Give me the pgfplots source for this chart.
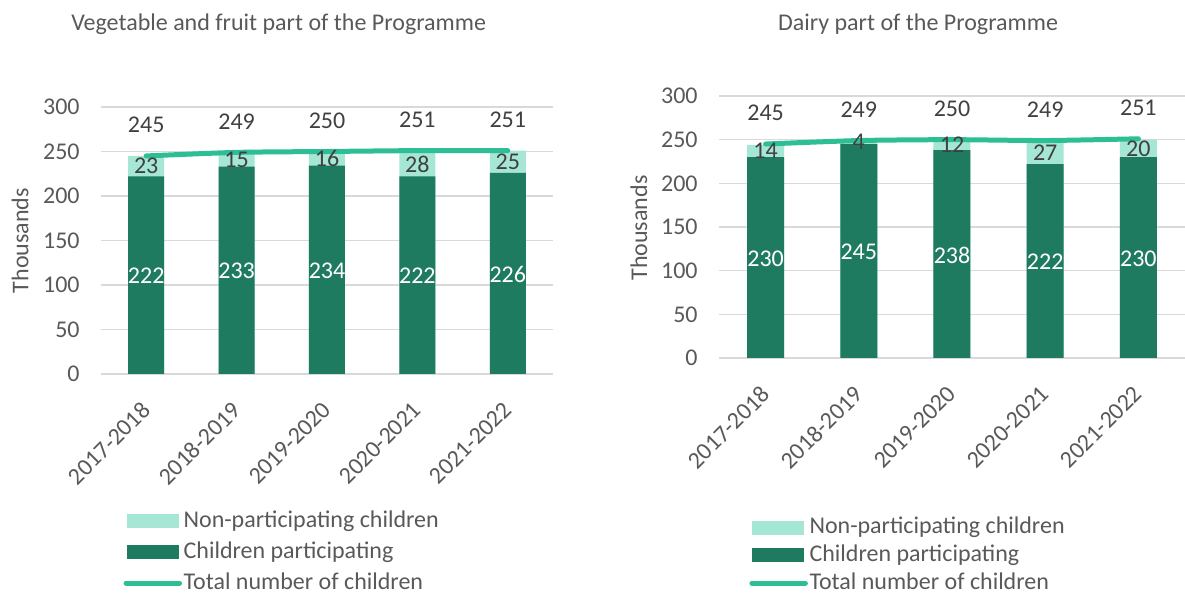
\documentclass[border=0pt]{standalone}
\usepackage{pgfplots}
\pgfplotsset{compat=1.18}
\usepackage{fontspec}
\setmainfont{Carlito}
\definecolor{darkg}{RGB}{31,123,96}
\definecolor{lightg}{RGB}{166,230,212}
\definecolor{linec}{RGB}{46,190,149}
\definecolor{textc}{RGB}{89,89,89}
\definecolor{labc}{RGB}{64,64,64}
\definecolor{gridc}{RGB}{217,217,217}
\newcommand{\fs}{\fontsize{12}{14}\selectfont}
\begin{document}
\begin{tikzpicture}
\useasboundingbox (0,0) rectangle (592.5pt,296.5pt);
\pgfplotsset{
  mybase/.style={
    scale only axis, anchor=south west,
    xmin=-0.5, xmax=4.5, ymin=0, ymax=300,
    xtick={0,...,4},
    xticklabels={2017-2018,2018-2019,2019-2020,2020-2021,2021-2022},
    ytick={0,50,...,300},
    ymajorgrids, grid style={draw=gridc, line width=0.75pt},
    axis line style={draw=none}, major tick length=0pt,
    tick label style={font=\fs, text=textc},
    /pgf/number format/assume math mode=true,
    yticklabel style={anchor=east, inner sep=0pt, xshift=-10.5pt},
    xticklabel style={xshift=-3pt, yshift=-13pt, rotate=45, anchor=north east, inner sep=0pt},
    ylabel=Thousands,
    title style={font=\fs, text=textc, anchor=center, yshift=-6pt},
    legend cell align=left,
  },
  barlab/.style={draw=none, mark=none, forget plot, nodes near coords, point meta=explicit symbolic,
    nodes near coords style={anchor=center, font=\fs, inner sep=0pt}},
}
% ---------------- Left chart ----------------
\begin{axis}[mybase,
  at={(50.5pt,109.5pt)}, width=226pt, height=133.5pt,
  title={Vegetable and fruit part of the Programme},
  title style={at={(axis description cs:0.393,1.311)}},
  ylabel style={at={(axis description cs:-0.179,0.5)}, anchor=center, font=\fs, text=textc},
  legend style={at={(axis description cs:0.049,-0.506)}, anchor=north west, draw=none, fill=none,
    inner sep=0pt, font=\fs, text=textc, row sep=3.4pt, column sep=0.8pt,
    nodes={inner sep=0pt, text height=9pt, text depth=3pt}},
]
\addplot[ybar, bar width=18pt, bar shift=0pt, fill=lightg, draw=none,
  legend image code/.code={\fill[lightg] (0pt,-3.5pt) rectangle (26pt,3.5pt);}]
  coordinates {(0,245) (1,248) (2,250) (3,250) (4,251)};
\addlegendentry{Non-participating children}
\addplot[ybar, bar width=18pt, bar shift=0pt, fill=darkg, draw=none,
  legend image code/.code={\fill[darkg] (0pt,-3.5pt) rectangle (26pt,3.5pt);}]
  coordinates {(0,222) (1,233) (2,234) (3,222) (4,226)};
\addlegendentry{Children participating}
\addplot[linec, line width=2.5pt, line cap=round, smooth, tension=0.4, mark=none,
  nodes near coords, nodes near coords style={anchor=center, yshift=15.5pt, text=labc, font=\fs, inner sep=0pt},
  legend image code/.code={\draw[linec, line width=2.5pt, line cap=round] (-0.25pt,0pt) -- (26.5pt,0pt);}]
  coordinates {(0,245) (1,249) (2,250) (3,251) (4,251)};
\addlegendentry{Total number of children}
\addplot[barlab, nodes near coords style={text=white}]
  coordinates {(0,110)[222] (1,115.5)[233] (2,116)[234] (3,110)[222] (4,112)[226]};
\addplot[barlab, nodes near coords style={text=labc}]
  coordinates {(0,233.5)[23] (1,240.5)[15] (2,242)[16] (3,236)[28] (4,238.5)[25]};
\end{axis}
% ---------------- Right chart ----------------
\begin{axis}[mybase,
  at={(359.5pt,117.5pt)}, width=233pt, height=131pt,
  title={Dairy part of the Programme},
  title style={at={(axis description cs:0.427,1.275)}},
  ylabel style={at={(axis description cs:-0.172,0.496)}, anchor=center, font=\fs, text=textc},
  legend style={at={(axis description cs:0.0644,-0.600)}, anchor=north west, draw=none, fill=none,
    inner sep=0pt, font=\fs, text=textc, row sep=1.9pt, column sep=0.8pt,
    nodes={inner sep=0pt, text height=9pt, text depth=3pt}},
]
\addplot[ybar, bar width=18.5pt, bar shift=0pt, fill=lightg, draw=none,
  legend image code/.code={\fill[lightg] (0pt,-3.5pt) rectangle (26pt,3.5pt);}]
  coordinates {(0,244) (1,249) (2,250) (3,249) (4,250)};
\addlegendentry{Non-participating children}
\addplot[ybar, bar width=18.5pt, bar shift=0pt, fill=darkg, draw=none,
  legend image code/.code={\fill[darkg] (0pt,-3.5pt) rectangle (26pt,3.5pt);}]
  coordinates {(0,230) (1,245) (2,238) (3,222) (4,230)};
\addlegendentry{Children participating}
\addplot[linec, line width=2.5pt, line cap=round, smooth, tension=0.4, mark=none,
  nodes near coords, nodes near coords style={anchor=center, yshift=15.5pt, text=labc, font=\fs, inner sep=0pt},
  legend image code/.code={\draw[linec, line width=2.5pt, line cap=round] (-0.25pt,0pt) -- (26.5pt,0pt);}]
  coordinates {(0,245) (1,249) (2,250) (3,249) (4,251)};
\addlegendentry{Total number of children}
\addplot[barlab, nodes near coords style={text=white}]
  coordinates {(0,114)[230] (1,122)[245] (2,118)[238] (3,110)[222] (4,114)[230]};
\addplot[barlab, nodes near coords style={text=labc}]
  coordinates {(0,237)[14] (1,247)[4] (2,244)[12] (3,235.5)[27] (4,240)[20]};
\end{axis}
\end{tikzpicture}
\end{document}
